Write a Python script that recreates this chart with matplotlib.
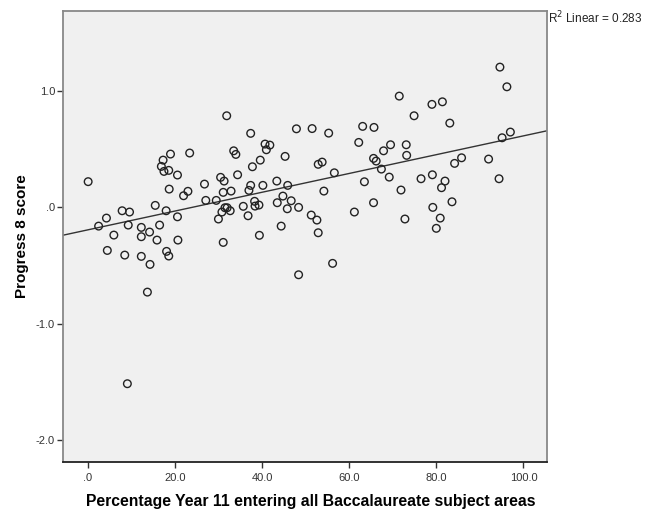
import numpy as np
import matplotlib
matplotlib.use("Agg")
import matplotlib.pyplot as plt

plt.rcParams['font.family'] = ['Liberation Sans', 'DejaVu Sans']

# Percentage Year 11 entering all Baccalaureate subject areas
pct_ebacc = [
    0.1, 31.9, 37.4, 47.9, 51.5, 40.7, 41.8, 41.0, 45.3, 39.6,
    37.8, 33.5, 34.0, 19.0, 23.4, 17.3, 16.9, 17.5, 18.6, 20.6,
    26.8, 30.5, 31.3, 34.4, 37.4, 40.2, 43.4, 45.9, 37.0, 32.9,
    31.1, 18.7, 23.0, 22.0, 15.5, 18.0, 27.1, 29.5, 31.5, 32.0,
    32.7, 30.8, 30.0, 38.3, 38.4, 39.3, 35.7, 36.8, 43.5, 44.8,
    46.7, 45.8, 48.4, 44.4, 39.4, 7.9, 9.6, 4.3, 2.5, 9.3,
    12.3, 16.5, 20.6, 31.1, 6.0, 12.3, 14.2, 15.9, 20.7, 4.5,
    8.5, 12.3, 14.3, 18.1, 18.6, 13.7, 9.1, 48.4, 94.6, 96.2,
    71.5, 79.0, 81.4, 74.9, 83.1, 63.1, 65.7, 55.3, 95.1, 97.0,
    62.2, 69.5, 67.9, 73.1, 73.2, 65.6, 66.2, 67.4, 69.2, 63.5,
    52.9, 53.8, 56.6, 54.2, 85.8, 84.2, 92.0, 94.4, 76.5, 79.1,
    82.0, 81.2, 71.9, 65.6, 61.2, 51.3, 52.6, 52.9, 72.8, 79.2,
    83.6, 80.9, 80.0, 56.2,
]
# Progress 8 score
progress8 = [
    0.220, 0.786, 0.635, 0.674, 0.676, 0.543, 0.534, 0.494, 0.437, 0.405,
    0.348, 0.485, 0.454, 0.457, 0.466, 0.405, 0.351, 0.308, 0.317, 0.277,
    0.199, 0.257, 0.225, 0.279, 0.188, 0.188, 0.225, 0.188, 0.145, 0.139,
    0.128, 0.156, 0.137, 0.099, 0.016, -0.030, 0.059, 0.059, -0.004, -0.004,
    -0.030, -0.041, -0.101, 0.051, 0.010, 0.019, 0.008, -0.073, 0.039, 0.096,
    0.056, -0.013, -0.001, -0.162, -0.241, -0.030, -0.041, -0.093, -0.162, -0.153,
    -0.173, -0.153, -0.082, -0.302, -0.239, -0.253, -0.213, -0.282, -0.282, -0.371,
    -0.411, -0.422, -0.491, -0.379, -0.419, -0.729, -1.516, -0.580, 1.204, 1.035,
    0.955, 0.884, 0.906, 0.786, 0.723, 0.695, 0.686, 0.637, 0.597, 0.646,
    0.557, 0.537, 0.485, 0.537, 0.446, 0.420, 0.397, 0.328, 0.259, 0.219,
    0.369, 0.388, 0.296, 0.139, 0.425, 0.377, 0.414, 0.245, 0.245, 0.279,
    0.225, 0.168, 0.148, 0.039, -0.041, -0.067, -0.110, -0.219, -0.101, -0.001,
    0.047, -0.093, -0.181, -0.482,
]
x_ticks = [0, 20, 40, 60, 80, 100]
x_tick_labels = ['.0', '20.0', '40.0', '60.0', '80.0', '100.0']
y_ticks = [-2, -1, 0, 1]
y_tick_labels = ['-2.0', '-1.0', '.0', '1.0']
r2_label = 'R$^2$ Linear = 0.283'
x_label = 'Percentage Year 11 entering all Baccalaureate subject areas'
y_label = 'Progress 8 score'

x = np.array(pct_ebacc)
y = np.array(progress8)

fig = plt.figure(figsize=(6.5, 5.15), dpi=100)
ax = fig.add_axes([0.0974, 0.1035, 0.7441, 0.8751])
ax.set_facecolor('#F0F0F0')

ax.scatter(x, y, s=30, facecolors='none', edgecolors='#222222', linewidths=1.0, zorder=3)

xlim = (-5.6, 105.4)
ylim = (-2.186, 1.686)
slope, intercept = np.polyfit(x, y, 1)
xl = np.array(xlim)
ax.plot(xl, intercept + slope * xl, color='#333333', linewidth=1.0, zorder=2)

ax.set_xlim(*xlim)
ax.set_ylim(*ylim)
ax.set_xticks(x_ticks)
ax.set_xticklabels(x_tick_labels)
ax.set_yticks(y_ticks)
ax.set_yticklabels(y_tick_labels)
ax.tick_params(axis='both', direction='out', length=4, width=1.0, color='#333333',
               labelsize=8, labelcolor='#333333')
ax.tick_params(axis='x', pad=4)
ax.tick_params(axis='y', pad=2)

for side in ['left', 'right', 'top']:
    ax.spines[side].set_color('#888888')
    ax.spines[side].set_linewidth(1.3)
ax.spines['bottom'].set_color('#222222')
ax.spines['bottom'].set_linewidth(1.3)

ax.set_xlabel(x_label, fontsize=11.3, fontweight='bold')
ax.xaxis.set_label_coords(0.512, -0.072)
ax.set_ylabel(y_label, fontsize=11, fontweight='bold', labelpad=5)

fig.text(0.843, 0.966, r2_label, fontsize=8.5, color='#222222', ha='left', va='center')

fig.savefig('out.png', dpi=100)
